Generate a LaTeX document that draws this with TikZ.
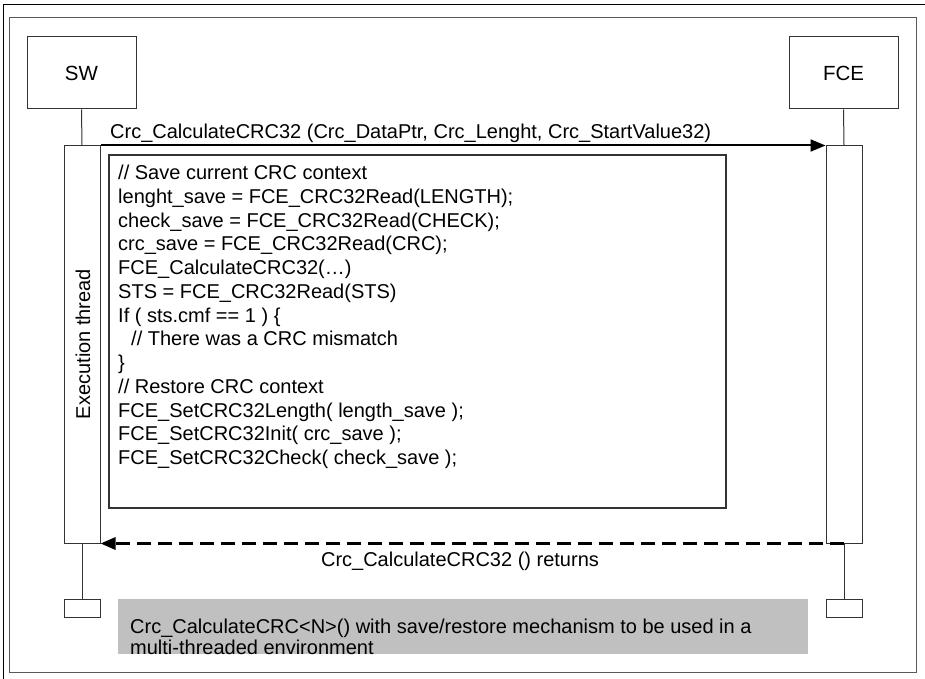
\documentclass[tikz,border=0pt]{standalone}
\usepackage{fontspec}
\setmainfont{Liberation Sans}
\usetikzlibrary{arrows.meta}
\definecolor{notegray}{HTML}{C0C0C0}
\begin{document}
\begin{tikzpicture}[x=1pt,y=-1pt,
  box/.style={draw=black!80, line width=1pt, fill=white, inner sep=0pt},
  lbl/.style={font=\fontsize{20}{23.75}\selectfont, inner sep=0pt},
  life/.style={draw=black!80, line width=1pt},
  tip/.style={-{Triangle[length=15pt,width=12pt]}}]
\useasboundingbox (0,0) rectangle (925,679);
\draw[line width=1pt] (3,679) -- (3,5) -- (925,5);
\draw[black!65, line width=1pt] (9,18) rectangle (916,672);
% participants
\node[box, minimum width=109pt, minimum height=72pt, font=\fontsize{20.5}{24}\selectfont] (sw) at (81.5,73) {SW};
\node[box, minimum width=109pt, minimum height=72pt, font=\fontsize{20.5}{24}\selectfont] (fce) at (843.5,73) {FCE};
% activations
\node[box, minimum width=36pt, minimum height=397pt] (swact) at (82,344.5) {};
\node[box, minimum width=36pt, minimum height=397pt] (fceact) at (844,344.5) {};
\node[lbl, rotate=90] (exec) at (83,344) {Execution thread};
% ends
\node[box, minimum width=36pt, minimum height=18pt] (swend) at (82,608) {};
\node[box, minimum width=36pt, minimum height=18pt] (fceend) at (844,608) {};
% lifelines
\draw[life] (sw.south) -- (swact.north);
\draw[life] (fce.south) -- (fceact.north);
\draw[life] (swact.south) -- (swend.north);
\draw[life] (fceact.south) -- (fceend.north);
% code box
\node[box, line width=1.2pt, minimum width=617pt, minimum height=353pt] (code) at (417.5,331.5) {};
\node[lbl, anchor=north west, align=left] (codetext) at (118,165) {%
// Save current CRC context\\
lenght\_save = FCE\_CRC32Read(LENGTH);\\
check\_save = FCE\_CRC32Read(CHECK);\\
crc\_save = FCE\_CRC32Read(CRC);\\
FCE\_CalculateCRC32(…)\\
STS = FCE\_CRC32Read(STS)\\
If ( sts.cmf == 1 ) \{\\
\hspace*{13pt}// There was a CRC mismatch\\
\}\\
// Restore CRC context\\
FCE\_SetCRC32Length( length\_save );\\
FCE\_SetCRC32Init( crc\_save );\\
FCE\_SetCRC32Check( check\_save );};
% messages
\draw[tip, line width=2pt] (swact.north east) -- (fceact.north west);
\node[lbl, anchor=base west] (calllbl) at (110,139) {Crc\_CalculateCRC32 (Crc\_DataPtr, Crc\_Lenght, Crc\_StartValue32)};
\coordinate (retstart) at (fceact.south);
\draw[tip, line width=3pt, dash pattern=on 14pt off 7pt] (retstart) -- (swact.south east);
\node[lbl, anchor=base] (retlbl) at (460,566) {Crc\_CalculateCRC32 () returns};
% note
\node[fill=notegray, minimum width=690pt, minimum height=55pt, inner sep=0pt] (note) at (463,626.5) {};
\node[lbl, anchor=north west, align=left, font=\fontsize{20}{21}\selectfont] (notetext) at (130,619) {Crc\_CalculateCRC<N>() with save/restore mechanism to be used in a\\multi-threaded environment};
\end{tikzpicture}
\end{document}
